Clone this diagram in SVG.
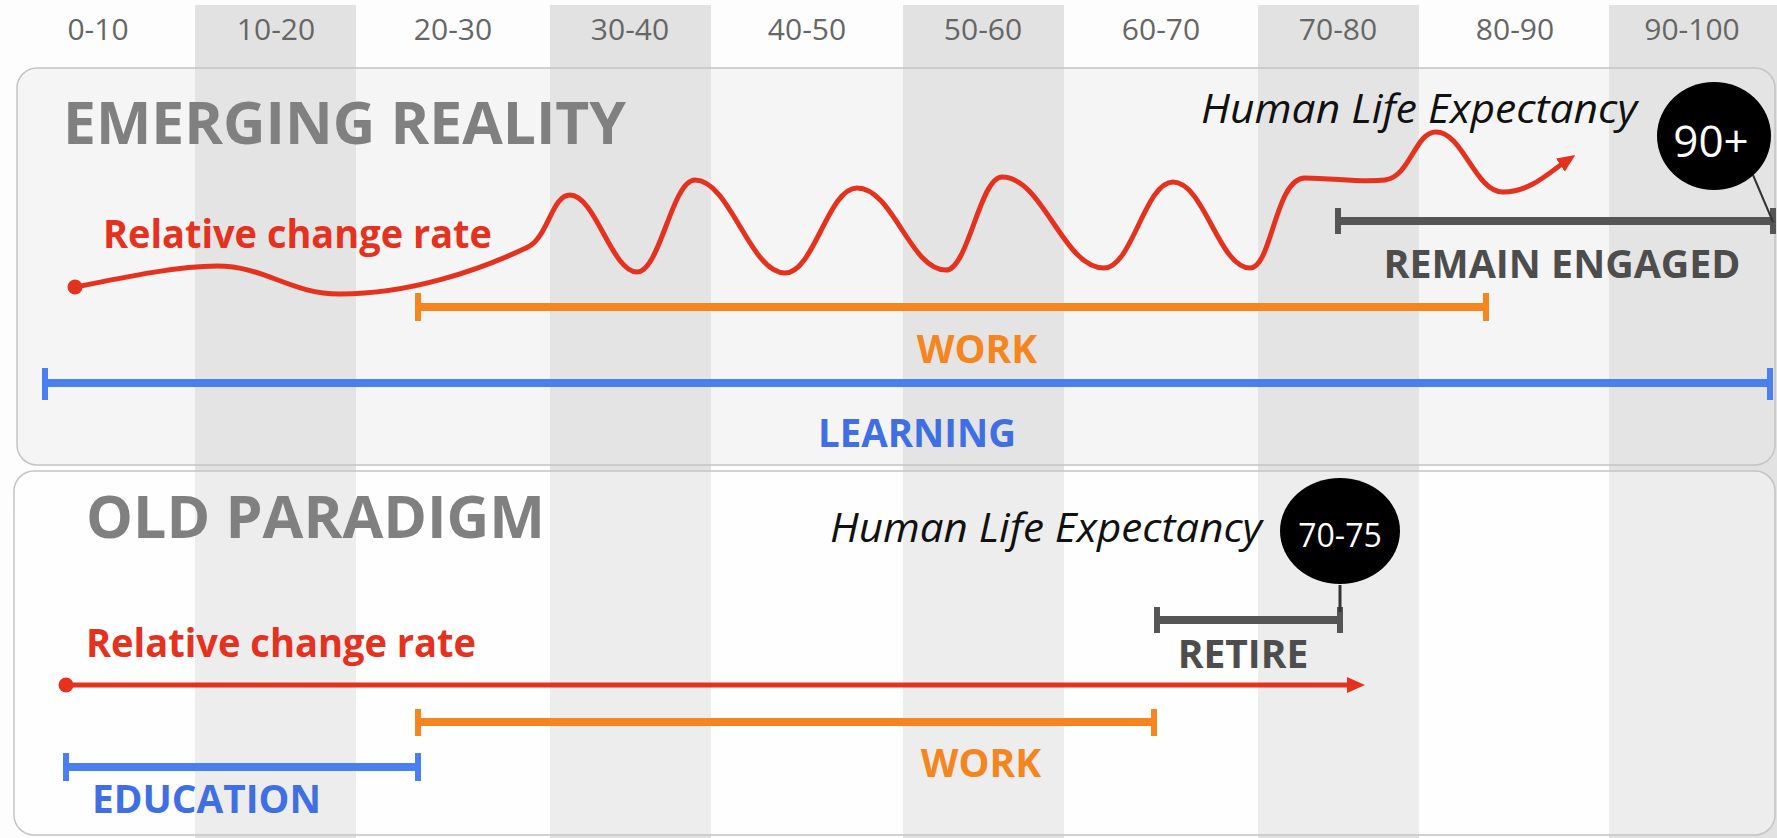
<svg xmlns="http://www.w3.org/2000/svg" width="1777" height="838" viewBox="0 0 1777 838">
<defs>
<style>
text{font-family:"Open Sans","Liberation Sans",sans-serif}
.col{font-size:30px;fill:#666;text-anchor:middle}
.title{font-size:59px;font-weight:700;fill:#808080}
.lbl{font-size:39px;font-weight:700}
.red{fill:#e5321f}
.org{fill:#f5861f}
.blu{fill:#3f6fe2}
.gry{fill:#4d4d4d}
.hle{font-size:40px;font-style:italic;fill:#111}
.circ{fill:#000}
.ctext{fill:#fff;text-anchor:middle}
.bar{fill:none;stroke-width:8}
.tick{fill:none;stroke-width:6}
.sOrg{stroke:#f5861f}
.sBlu{stroke:#4a7ff0}
.sGry{stroke:#555}
.sRed{stroke:#e5321f}
.stripe{fill:#e2e2e2}
</style>
<marker id="arrow" markerUnits="userSpaceOnUse" viewBox="0 0 18 16" refX="2" refY="8" markerWidth="18" markerHeight="16" orient="auto">
<path d="M0,0 L18,8 L0,16 z" fill="#e5321f"/>
</marker>
</defs>

<g id="background">
<rect x="0" y="0" width="1777" height="838" fill="#fdfdfd"/>
<rect class="stripe" x="195" y="5" width="161" height="833"/>
<rect class="stripe" x="550" y="5" width="161" height="833"/>
<rect class="stripe" x="903" y="5" width="161" height="833"/>
<rect class="stripe" x="1258" y="5" width="161" height="833"/>
<rect class="stripe" x="1609" y="5" width="168" height="833"/>
</g>

<g id="columns">
<text class="col" x="98" y="40">0-10</text>
<text class="col" x="276" y="40">10-20</text>
<text class="col" x="453" y="40">20-30</text>
<text class="col" x="630" y="40">30-40</text>
<text class="col" x="807" y="40">40-50</text>
<text class="col" x="983" y="40">50-60</text>
<text class="col" x="1161" y="40">60-70</text>
<text class="col" x="1338" y="40">70-80</text>
<text class="col" x="1515" y="40">80-90</text>
<text class="col" x="1692" y="40">90-100</text>
</g>

<g id="panel-emerging">
<rect x="17" y="68" width="1758" height="397" rx="20" fill="#e8e8e8" fill-opacity="0.38" stroke="#c4c4c4" stroke-width="1.5"/>
<text class="title" x="63" y="144" textLength="563" lengthAdjust="spacingAndGlyphs">EMERGING REALITY</text>
</g>

<g id="panel-old">
<rect x="14" y="471" width="1761" height="364" rx="20" fill="#ffffff" fill-opacity="0.38" stroke="#c4c4c4" stroke-width="1.5"/>
<text class="title" x="86" y="538" textLength="459" lengthAdjust="spacingAndGlyphs">OLD PARADIGM</text>
</g>

<g id="connectors">
<!-- emerging: change rate wave -->
<path class="sRed" fill="none" stroke-width="5" stroke-linecap="round" marker-end="url(#arrow)" d="M76,287 C130,276 180,266 217,266 C265,266 290,294 340,294 C410,294 480,270 528,247 C548,237 552,195 570,195 C595,195 612,272 637,272 C660,272 672,180 695,180 C730,180 750,273 785,273 C814,273 828,188 857,188 C893,188 910,270 946,270 C968,270 980,177 1002,177 C1043,177 1063,268 1104,268 C1132,268 1145,182 1173,182 C1204,182 1219,268 1250,268 C1272,268 1275,178 1305,178 C1335,178 1360,183 1385,180 C1410,177 1415,132 1436,132 C1463,132 1475,192 1503,192 C1530,192 1550,172 1562,164"/>
<circle cx="75" cy="287" r="7.5" fill="#e5321f"/>
<!-- emerging: remain engaged -->
<path class="bar sGry" d="M1338,221 H1773"/>
<path class="tick sGry" d="M1338,208 V234 M1773,208 V234"/>
<line x1="1753" y1="175" x2="1773" y2="222" stroke="#333" stroke-width="2"/>
<!-- emerging: work -->
<path class="bar sOrg" d="M418,307 H1486"/>
<path class="tick sOrg" d="M418,293 V321 M1486,293 V321"/>
<!-- emerging: learning -->
<path class="bar sBlu" d="M45,383 H1770"/>
<path class="tick sBlu" d="M45,368 V400 M1770,368 V400"/>

<!-- old: retire -->
<path class="bar sGry" d="M1157,620 H1340"/>
<path class="tick sGry" d="M1157,607 V633 M1340,607 V633"/>
<line x1="1340" y1="585" x2="1340" y2="612" stroke="#333" stroke-width="3"/>
<!-- old: change rate -->
<line class="sRed" x1="66" y1="685" x2="1349" y2="685" stroke-width="5" marker-end="url(#arrow)"/>
<circle cx="66" cy="685" r="7.5" fill="#e5321f"/>
<!-- old: work -->
<path class="bar sOrg" d="M418,722 H1154"/>
<path class="tick sOrg" d="M418,709 V736 M1154,709 V736"/>
<!-- old: education -->
<path class="bar sBlu" d="M66,767 H418"/>
<path class="tick sBlu" d="M66,753 V781 M418,753 V781"/>
</g>

<g id="label-change-emerging">
<text class="lbl red" x="103" y="248" font-size="38" textLength="389" lengthAdjust="spacingAndGlyphs">Relative change rate</text>
</g>
<g id="label-hle-emerging">
<text class="hle" x="1201" y="123" textLength="436" lengthAdjust="spacingAndGlyphs">Human Life Expectancy</text>
</g>
<g id="node-90plus">
<ellipse class="circ" cx="1714" cy="136" rx="57" ry="54"/>
<text class="ctext" x="1711" y="157" font-size="44">90+</text>
</g>
<g id="label-remain">
<text class="lbl gry" x="1562" y="278" text-anchor="middle" textLength="357" lengthAdjust="spacingAndGlyphs">REMAIN ENGAGED</text>
</g>
<g id="label-work-emerging">
<text class="lbl org" x="977" y="363" text-anchor="middle" font-size="40">WORK</text>
</g>
<g id="label-learning">
<text class="lbl blu" x="917" y="447" text-anchor="middle" textLength="198" lengthAdjust="spacingAndGlyphs">LEARNING</text>
</g>

<g id="label-hle-old">
<text class="hle" x="830" y="542" textLength="432" lengthAdjust="spacingAndGlyphs">Human Life Expectancy</text>
</g>
<g id="node-70-75">
<ellipse class="circ" cx="1340" cy="531" rx="60" ry="53"/>
<text class="ctext" x="1340" y="547" font-size="32">70-75</text>
</g>
<g id="label-retire">
<text class="lbl gry" x="1243" y="668" text-anchor="middle">RETIRE</text>
</g>
<g id="label-change-old">
<text class="lbl red" x="86" y="657" font-size="38" textLength="390" lengthAdjust="spacingAndGlyphs">Relative change rate</text>
</g>
<g id="label-work-old">
<text class="lbl org" x="981" y="777" text-anchor="middle" font-size="40">WORK</text>
</g>
<g id="label-education">
<text class="lbl blu" x="92" y="813" textLength="229" lengthAdjust="spacingAndGlyphs">EDUCATION</text>
</g>
</svg>
